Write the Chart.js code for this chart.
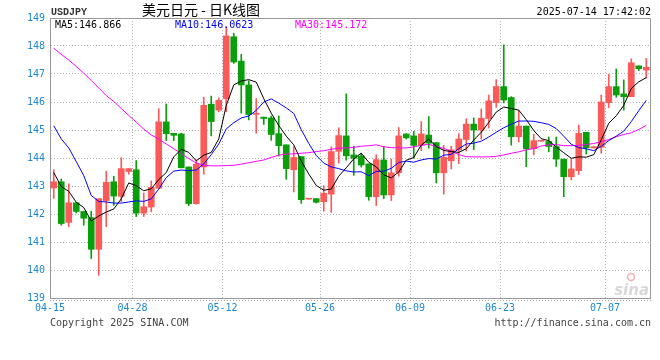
<!DOCTYPE html>
<html>
<head>
<meta charset="utf-8">
<script src="https://cdn.jsdelivr.net/npm/chart.js@4.4.0/dist/chart.umd.min.js"></script>
<style>
html,body{margin:0;padding:0;background:#fff;}
#wrap{width:660px;height:360px;position:relative;}
</style>
</head>
<body>
<div id="wrap"><canvas id="c" width="660" height="360"></canvas></div>
<script>
const symbol = 'USDJPY';
const titleText = '美元日元 - 日K线图';
const stamp = '2025-07-14 17:42:02';
const maLabels = ['MA5:146.866', 'MA10:146.0623', 'MA30:145.172'];
const footLeft = 'Copyright 2025 SINA.COM';
const footRight = 'http://finance.sina.com.cn';
const tickDates = ['04-15','04-28','05-12','05-26','06-09','06-23','07-07'];
const yTicks = [139,140,141,142,143,144,145,146,147,148,149];

const dates = ['04-15','04-16','04-17','04-18','04-19','04-21','04-22','04-23','04-24','04-25','04-26',
'04-28','04-29','04-30','05-01','05-02','05-03','05-05','05-06','05-07','05-08','05-09','05-10',
'05-12','05-13','05-14','05-15','05-16','05-17','05-19','05-20','05-21','05-22','05-23','05-24','05-25',
'05-26','05-27','05-28','05-29','05-30','05-31','06-02','06-03','06-04','06-05','06-06','06-07',
'06-09','06-10','06-11','06-12','06-13','06-14','06-16','06-17','06-18','06-19','06-20','06-21',
'06-23','06-24','06-25','06-26','06-27','06-28','06-29','06-30','07-01','07-02','07-03','07-04','07-05','07-06',
'07-07','07-08','07-09','07-10','07-11','07-14'];

const opens = [142.93,143.15,141.70,142.40,142.09,141.87,140.74,142.48,143.15,142.63,
143.52,143.58,142.03,142.25,142.92,145.29,144.88,144.86,143.68,142.37,
143.68,145.92,145.71,146.12,148.33,147.46,146.61,145.56,145.46,145.43,
144.87,144.47,143.58,144.05,142.53,142.55,142.44,142.71,144.24,144.79,
144.11,144.07,143.79,142.62,143.93,142.68,143.48,144.86,144.79,144.46,
144.82,144.55,143.47,143.90,144.29,144.66,145.21,145.00,145.41,145.98,
146.55,146.16,144.76,145.14,144.33,144.60,144.59,144.41,143.96,143.33,
143.55,144.92,144.36,144.38,145.98,146.55,146.29,146.19,147.29,147.14];
const highs = [143.58,143.25,143.08,142.42,142.10,142.10,142.55,143.53,143.35,144.01,
143.62,143.91,142.75,143.18,145.76,145.93,144.88,144.89,143.68,143.94,
146.17,146.21,146.15,148.69,148.45,147.70,146.76,146.12,145.46,145.50,
145.50,144.47,144.40,144.05,142.54,142.55,143.01,144.40,145.08,146.29,
144.42,144.17,143.79,144.12,144.42,143.96,145.09,144.86,144.95,145.30,
145.48,144.55,144.45,144.42,144.87,145.40,145.43,145.75,146.25,146.80,
148.04,146.19,145.70,145.14,144.85,144.62,144.75,144.75,143.96,143.95,
145.18,144.92,144.42,146.25,146.99,147.18,146.79,147.54,147.29,147.56];
const lows = [142.56,141.60,141.55,142.04,141.60,140.41,139.81,141.55,142.31,142.44,
143.42,141.91,141.91,142.08,142.92,144.62,144.62,143.65,142.30,142.35,
143.42,144.79,145.65,145.65,147.38,145.60,145.36,144.88,145.20,144.63,
144.07,143.24,142.79,142.38,142.53,142.39,142.10,142.06,143.82,143.92,
143.38,143.68,142.49,142.30,142.55,142.48,143.35,144.68,143.99,144.26,
144.35,143.11,142.71,143.61,143.80,144.25,144.30,144.67,145.07,145.81,
145.97,144.46,144.57,143.69,144.11,144.60,144.22,143.70,142.62,143.22,
143.41,144.14,144.36,144.17,145.80,146.17,145.71,146.19,147.12,146.85];
const closes = [143.15,141.66,142.40,142.09,141.85,140.74,142.55,143.13,142.64,143.62,
143.62,142.03,142.26,142.95,145.29,144.87,144.81,143.65,142.37,143.78,
145.88,145.30,146.06,148.36,147.43,146.61,145.55,145.58,145.41,144.84,
144.44,143.62,144.02,142.51,142.54,142.42,142.74,144.23,144.80,144.08,
143.99,143.75,142.62,143.94,142.68,143.47,144.79,144.72,144.45,144.86,
144.53,143.47,144.02,144.29,144.68,145.21,145.00,145.42,146.04,146.55,
146.07,144.76,145.14,144.33,144.62,144.62,144.41,143.96,143.33,143.61,
144.88,144.37,144.40,146.00,146.55,146.25,146.19,147.40,147.19,147.24];

const ma5 = [143.48,142.98,142.81,142.42,142.23,141.75,141.93,142.07,142.18,142.54,
143.11,143.01,142.83,142.90,143.23,143.48,144.04,144.31,144.20,143.90,
144.10,144.20,144.68,145.88,146.61,146.75,146.80,146.71,146.12,145.60,
145.16,144.78,144.47,143.89,143.43,143.02,142.85,142.89,143.35,143.65,
143.97,144.17,143.85,143.68,143.40,143.29,143.50,143.92,144.02,144.46,
144.67,144.41,144.27,144.23,144.20,144.33,144.64,144.92,145.27,145.64,
145.82,145.77,145.71,145.37,144.98,144.69,144.62,144.39,144.19,143.99,
144.04,144.03,144.12,144.65,145.24,145.51,145.88,146.48,146.72,146.87];
const ma10 = [145.15,144.68,144.36,143.87,143.37,142.66,142.45,142.43,142.39,142.39,
142.43,142.47,142.45,142.54,142.89,143.30,143.53,143.57,143.55,143.57,
143.79,144.12,144.50,145.04,145.26,145.43,145.50,145.70,146.00,146.11,
145.96,145.79,145.59,145.01,144.52,144.09,143.82,143.68,143.62,143.54,
143.50,143.51,143.37,143.52,143.53,143.63,143.84,143.89,143.85,143.93,
143.98,143.96,144.10,144.13,144.33,144.50,144.53,144.60,144.75,144.92,
145.08,145.21,145.32,145.32,145.31,145.26,145.20,145.05,144.78,144.49,
144.37,144.33,144.26,144.42,144.62,144.78,144.96,145.30,145.69,146.06];
const ma30 = [147.92,147.70,147.50,147.27,147.03,146.77,146.50,146.23,146.02,145.77,
145.52,145.28,145.03,144.82,144.68,144.50,144.33,144.16,143.98,143.82,
143.74,143.72,143.72,143.73,143.74,143.78,143.83,143.88,143.93,144.02,
144.10,144.14,144.15,144.17,144.19,144.23,144.26,144.31,144.35,144.36,
144.38,144.42,144.44,144.47,144.40,144.37,144.36,144.36,144.40,144.45,
144.49,144.41,144.34,144.25,144.12,144.05,144.04,144.04,144.04,144.06,
144.11,144.17,144.22,144.29,144.34,144.43,144.47,144.48,144.44,144.44,
144.45,144.48,144.52,144.58,144.66,144.76,144.84,144.90,145.02,145.17];

const UP = '#fa5a5a', DOWN = '#0a9f0a';
const candleColor = i => closes[i] >= opens[i] ? UP : DOWN;
const MONO = '"DejaVu Sans Mono", monospace';

const decor = {
  id: 'decor',
  afterDraw(chart) {
    const ctx = chart.ctx, a = chart.chartArea;
    ctx.save();
    // frame top & right
    ctx.strokeStyle = '#999'; ctx.lineWidth = 1; ctx.setLineDash([]);
    ctx.beginPath();
    ctx.moveTo(Math.round(a.left), Math.round(a.top) + 0.5);
    ctx.lineTo(Math.round(a.right) + 0.5, Math.round(a.top) + 0.5);
    ctx.lineTo(Math.round(a.right) + 0.5, Math.round(a.bottom));
    ctx.stroke();
    // dotted line beneath the axis
    ctx.strokeStyle = '#aaa'; ctx.setLineDash([1, 2]);
    ctx.beginPath();
    ctx.moveTo(a.left, Math.round(a.bottom) + 2.5);
    ctx.lineTo(a.right + 2, Math.round(a.bottom) + 2.5);
    ctx.stroke();
    ctx.setLineDash([]);
    // sina watermark
    ctx.globalAlpha = 0.55;
    ctx.fillStyle = '#b8b8b8';
    ctx.font = 'italic bold 15px "DejaVu Sans", sans-serif';
    ctx.textAlign = 'right'; ctx.textBaseline = 'alphabetic';
    ctx.fillText('sina', a.right - 1, a.bottom - 3);
    ctx.strokeStyle = '#e07070'; ctx.lineWidth = 1.5;
    ctx.beginPath(); ctx.arc(a.right - 19, a.bottom - 21, 3.5, 0, Math.PI * 2); ctx.stroke();
    ctx.globalAlpha = 1;
    // header
    ctx.textBaseline = 'middle';
    ctx.textAlign = 'left';
    ctx.fillStyle = '#333';
    ctx.font = 'bold 10px "Liberation Mono", monospace';
    ctx.fillText(symbol, a.left + 1, 12);
    ctx.fillStyle = '#000';
    ctx.font = '14px "Noto Sans CJK SC", sans-serif';
    ctx.textAlign = 'center';
    ctx.fillText(titleText, 201, 10);
    ctx.font = '10px ' + MONO;
    ctx.textAlign = 'right';
    ctx.fillText(stamp, a.right + 1, 12);
    // MA legend
    ctx.textAlign = 'left';
    const legendX = [a.left + 5, a.left + 125, a.left + 245];
    const legendC = ['#000', '#0000ff', '#ff00ff'];
    maLabels.forEach((t, k) => { ctx.fillStyle = legendC[k]; ctx.fillText(t, legendX[k], a.top + 7); });
    // footer
    ctx.fillStyle = '#444';
    ctx.fillText(footLeft, a.left, 323);
    ctx.textAlign = 'right';
    ctx.fillText(footRight, a.right + 1, 323);
    ctx.restore();
  }
};

new Chart(document.getElementById('c'), {
  type: 'bar',
  data: {
    labels: dates,
    datasets: [
      { type: 'line', label: 'MA5', data: ma5, borderColor: '#000', borderWidth: 1, pointRadius: 0, tension: 0, order: 0 },
      { type: 'line', label: 'MA10', data: ma10, borderColor: '#0000ff', borderWidth: 1, pointRadius: 0, tension: 0, order: 0 },
      { type: 'line', label: 'MA30', data: ma30, borderColor: '#ff00ff', borderWidth: 1, pointRadius: 0, tension: 0, order: 0 },
      { type: 'bar', label: 'body', data: opens.map((o, i) => [o, closes[i]]),
        backgroundColor: c => candleColor(c.dataIndex), barThickness: 6, minBarLength: 1, grouped: false, borderWidth: 0, order: 1 },
      { type: 'bar', label: 'wick', data: lows.map((l, i) => [l, highs[i]]),
        backgroundColor: c => candleColor(c.dataIndex), barThickness: 1, grouped: false, borderWidth: 0, order: 2 }
    ]
  },
  options: {
    responsive: false,
    animation: false,
    devicePixelRatio: 1,
    layout: { padding: { left: 0, right: 10, top: 18, bottom: 0 } },
    plugins: { legend: { display: false }, tooltip: { enabled: false }, title: { display: false } },
    scales: {
      x: {
        type: 'category',
        offset: true,
        grid: {
          offset: true, drawTicks: false,
          color: c => tickDates.includes(dates[c.index]) ? '#b4b4b4' : 'rgba(0,0,0,0)'
        },
        border: { display: true, color: '#999', width: 1, dash: [1, 2] },
        ticks: {
          autoSkip: false, maxRotation: 0, minRotation: 0, padding: 4, labelOffset: -3.75,
          color: '#1e88d0', font: { family: MONO, size: 10 },
          callback: (v, i) => tickDates.includes(dates[i]) ? dates[i] : ''
        },
        afterFit: s => { s.height = 62; }
      },
      y: {
        min: yTicks[0], max: yTicks[yTicks.length - 1],
        afterBuildTicks: s => { s.ticks = yTicks.map(v => ({ value: v })); },
        grid: { color: '#b4b4b4', drawTicks: false },
        border: { display: true, color: '#999', width: 1, dash: [1, 2] },
        ticks: { color: '#1e88d0', font: { family: MONO, size: 10 }, padding: 5 },
        afterFit: s => { s.width = 50; }
      }
    }
  },
  plugins: [decor]
});
</script>
</body>
</html>
